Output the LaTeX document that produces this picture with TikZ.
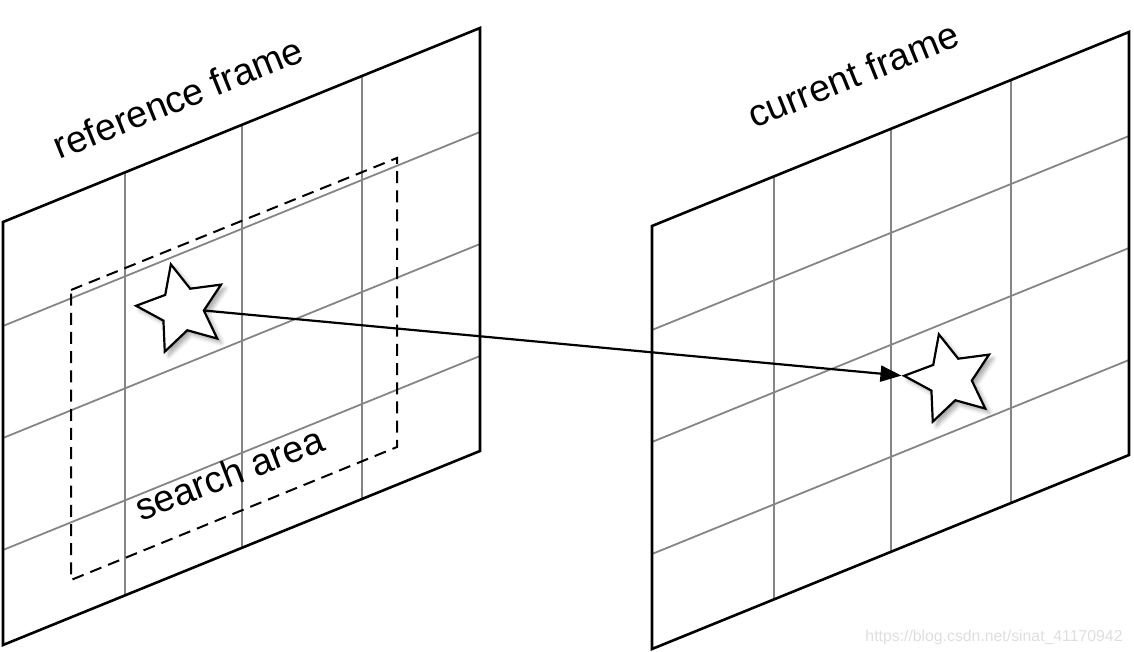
\documentclass[tikz,border=0pt]{standalone}
\usepackage{fontspec}
\setmainfont{Liberation Sans}
\usetikzlibrary{arrows.meta,shapes.geometric,shadows.blur}

\begin{document}
\begin{tikzpicture}[x=0.5pt,y=-0.5pt, >={Triangle[length=10.5pt,width=8pt]},
  frameline/.style={line width=1.3pt,line join=miter},
  gridline/.style={line width=0.9pt,draw=black!48},
  searchline/.style={line width=1pt,dash pattern=on 6pt off 3.6pt},
  framelabel/.style={font=\fontsize{18.8}{23}\selectfont,rotate=22,anchor=base,inner sep=0pt},
  starmark/.style={star,star points=5,star point ratio=2.1,minimum size=46pt,inner sep=0pt,
    shape border rotate=14,draw,line width=1.1pt,fill=white,
    blur shadow={shadow xshift=2pt,shadow yshift=-2pt,shadow blur steps=6,shadow opacity=35}}]
\useasboundingbox (0,0) rectangle (1134,652);
% the two frames with their grids
\foreach \ox/\oy in {3/222,652/226}{
  \begin{scope}[shift={(\ox,\oy)}]
    \foreach \h in {104,216,328} \draw[gridline] (0,\h) -- (477,\h-194);
    \foreach \u in {122,239,359} \draw[gridline] (\u,{-0.4067*\u}) -- (\u,{423-0.4067*\u});
    \draw[frameline] (0,0) -- (477,-194) -- (477,229) -- (0,423) -- cycle;
  \end{scope}
}
% search area
\draw[searchline] (71,290) -- (397,158) -- (397,447) -- (71,580) -- cycle;
\node[starmark] (refstar) at (182,309) {};
\node[starmark] (curstar) at (950,379) {};
\draw[->,line width=1.1pt] (refstar.inner point 4) -- (curstar.outer point 2);
\node[framelabel] (reflabel) at (183,110) {reference frame};
\node[framelabel] (curlabel) at (858,87) {current frame};
\node[framelabel,rotate=-1] (searchlabel) at (234,486) {search area};
\node[font=\fontsize{7.9}{9}\selectfont,text=black!13,anchor=base,inner sep=0pt] (mark)
  at (994,641) {https://blog.csdn.net/sinat\_41170942};
\end{tikzpicture}
\end{document}
